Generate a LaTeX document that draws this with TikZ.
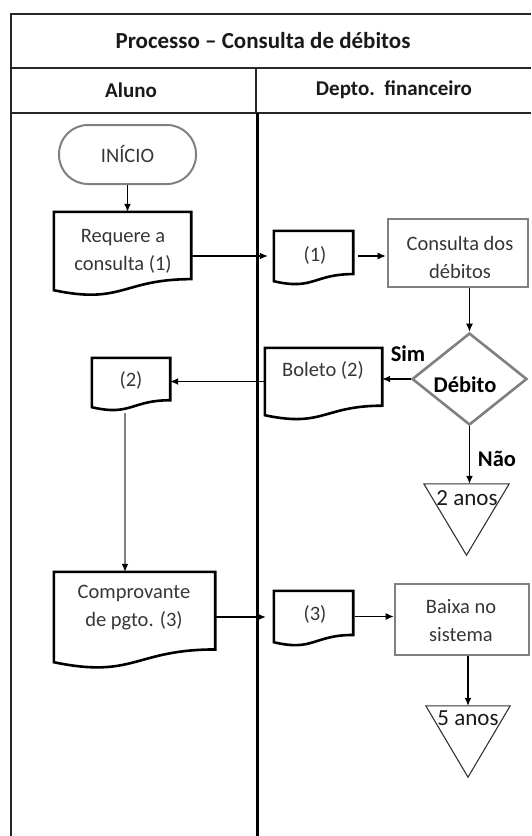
\documentclass[tikz,border=0pt]{standalone}
\usepackage{fontspec}
\setmainfont{Carlito}
\usetikzlibrary{arrows.meta,calc,shapes.geometric}
\definecolor{boxgray}{HTML}{808080}
\definecolor{txtcol}{HTML}{363636}
\newcommand\docoutline[1]{%
  \draw[docline] (#1.north west) -- (#1.north east) -- ($(#1.north east)!0.859!(#1.south east)$)
    .. controls ($(#1.north)!0.859!(#1.south)$) and ($(#1.north)!1.186!(#1.south)$) .. (#1.south west) -- cycle;}
\newcommand\trioutline[1]{%
  \draw[triline] (#1.north west) -- (#1.north east) -- (#1.south) -- cycle;}
\begin{document}
\begin{tikzpicture}[x=1pt,y=-1pt,
  frame/.style={line width=1.3pt, draw=black!85},
  lane/.style={line width=3pt, draw=black},
  regtxt/.style={font=\fontsize{20.5}{28}\selectfont, text=txtcol, align=center, inner sep=0pt},
  bigtxt/.style={font=\fontsize{23}{26}\selectfont, text=black!90, inner sep=0pt},
  boldtxt/.style={font=\bfseries\fontsize{22.5}{26}\selectfont, text=black, inner sep=0pt},
  hdr/.style={font=\bfseries\fontsize{21}{25}\selectfont, text=black!90, inner sep=0pt},
  ttlstyle/.style={font=\bfseries\fontsize{23}{27}\selectfont, text=black!90, inner sep=0pt},
  docn/.style={draw=none, rectangle, inner sep=0pt},
  docline/.style={line width=2.6pt, draw=black, line join=miter},
  triline/.style={line width=1.1pt, draw=black!80},
  graybox/.style={draw=boxgray, line width=2.6pt, rectangle, inner sep=0pt},
  arr/.style={-{Latex[length=8pt,width=7pt]}, line width=1.2pt, draw=black},
  garr/.style={-{Latex[length=8pt,width=7pt,color=black]}, line width=1.2pt, draw=boxgray},
]
\useasboundingbox (0,0) rectangle (531,836);
% frame
\draw[frame] (531,14) -- (11,14) -- (11,836);
\draw[frame] (11,68) -- (531,68);
\draw[frame] (11,113) -- (531,113);
\draw[frame] (256,68) -- (256,113);
\draw[lane] (257,113) -- (257,836);
\node[ttlstyle] (ttl) at (263,41) {Processo – Consulta de débitos};
\node[hdr] (h1) at (131,90) {Aluno};
\node[hdr] (h2) at (394,90) {Depto.\ \ financeiro};

% Aluno lane
\node[draw=boxgray, line width=2pt, rectangle, rounded corners=29pt, minimum width=137, minimum height=59, inner sep=0pt, regtxt] (ini) at (127.5,154.5) {INÍCIO};
\node[docn, minimum width=137, minimum height=78] (req) at (122.5,251) {};
\docoutline{req}
\node[regtxt] (reqt) at (123,251) {Requere a\\consulta (1)};
\node[docn, minimum width=78, minimum height=49] (d2) at (131,382.5) {};
\docoutline{d2}
\node[regtxt] (d2t) at (131,380) {(2)};
\node[docn, minimum width=161, minimum height=90] (comp) at (134.5,617) {};
\docoutline{comp}
\node[regtxt] (compt) at (134,608) {Comprovante\\de pgto. (3)};

% Depto lane
\node[docn, minimum width=79, minimum height=50] (d1) at (313.5,256) {};
\docoutline{d1}
\node[regtxt] (d1t) at (315,255) {(1)};
\node[graybox, minimum width=140, minimum height=68] (cons) at (458,253) {};
\node[regtxt] (const) at (460,257) {Consulta dos\\débitos};
\node[draw=boxgray, line width=2.6pt, diamond, aspect=1.25, minimum width=115, minimum height=92, inner sep=0pt] (dec) at (469.5,379) {};
\node[boldtxt] (dect) at (465,385) {Débito};
\node[boldtxt] (sim) at (408,354) {Sim};
\node[boldtxt] (nao) at (497,459) {Não};
\node[docn, minimum width=117, minimum height=67] (bol) at (323.5,381.5) {};
\docoutline{bol}
\node[regtxt] (bolt) at (323,370) {Boleto (2)};
\node[docn, minimum width=85, minimum height=71] (t2) at (466.5,519.5) {};
\trioutline{t2}
\node[bigtxt] (t2t) at (467,498) {2 anos};
\node[docn, minimum width=79, minimum height=51] (d3) at (313.5,616.5) {};
\docoutline{d3}
\node[regtxt] (d3t) at (315,614) {(3)};
\node[graybox, minimum width=134, minimum height=71] (baixa) at (462,619.5) {};
\node[regtxt] (baixat) at (461,621) {Baixa no\\sistema};
\node[docn, minimum width=84, minimum height=71] (t5) at (468,741.5) {};
\trioutline{t5}
\node[bigtxt] (t5t) at (468,718) {5 anos};

% connectors
\draw[arr] (ini.south) -- (ini.south |- req.north);
\draw[arr, shorten >=6pt] (req.east |- d1.west) -- (d1.west);
\draw[arr, shorten <=5pt, shorten >=1pt] (d1.east) -- (d1.east -| cons.west);
\draw[arr] (cons.south -| dec.north) -- (dec.north);
\draw[arr] (dec.west) -- (dec.west -| bol.east);
\draw[arr] (bol.west) -- (bol.west -| d2.east);
\coordinate (g1) at ($(d2.south)+(-6,6)$);
\draw[garr] (g1) -- (g1 |- comp.north);
\draw[arr, shorten >=8pt] (comp.east) -- (comp.east -| d3.west);
\draw[arr, shorten <=2pt] (d3.east) -- (d3.east -| baixa.west);
\draw[arr] (baixa.south -| t5.north) -- (t5.north);
\draw[arr] (dec.south) -- (dec.south |- t2.north);
\end{tikzpicture}
\end{document}
